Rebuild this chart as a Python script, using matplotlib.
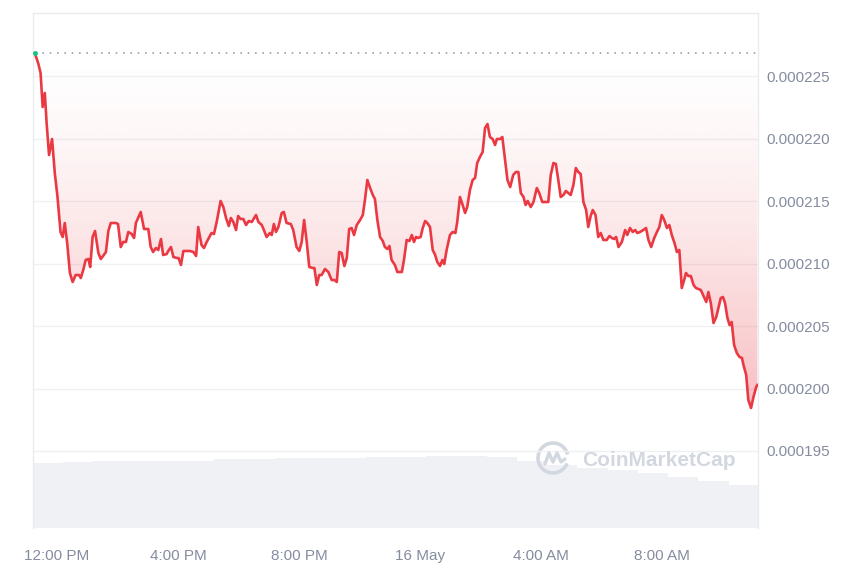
import numpy as np
import matplotlib
matplotlib.use("Agg")
from matplotlib import pyplot as plt
from matplotlib.patches import Arc

plt.rcParams['font.family'] = ['Liberation Sans', 'DejaVu Sans']

# ---------------------------------------------------------------------------
# data (hours after 15 May 12:00 PM, price in 1e-6 USD)
# ---------------------------------------------------------------------------
hours = [-0.73, -0.62, -0.54, -0.47, -0.40, -0.34, -0.26, -0.16, -0.07, 0.02,
         0.12, 0.19, 0.26, 0.34, 0.43, 0.52, 0.62, 0.73, 0.79, 0.87,
         0.95, 1.04, 1.10, 1.18, 1.26, 1.37, 1.45, 1.55, 1.62, 1.70,
         1.78, 1.86, 1.95, 2.02, 2.11, 2.19, 2.28, 2.36, 2.47, 2.55,
         2.61, 2.77, 2.88, 3.02, 3.10, 3.18, 3.27, 3.35, 3.44, 3.51,
         3.63, 3.68, 3.77, 3.85, 3.96, 4.02, 4.10, 4.18, 4.29, 4.40,
         4.51, 4.60, 4.67, 4.78, 4.86, 4.95, 5.04, 5.11, 5.19, 5.28,
         5.41, 5.50, 5.59, 5.68, 5.75, 5.83, 5.92, 5.99, 6.07, 6.16,
         6.25, 6.34, 6.44, 6.58, 6.66, 6.77, 6.84, 6.93, 7.04, 7.10,
         7.17, 7.24, 7.32, 7.43, 7.50, 7.59, 7.73, 7.81, 7.92, 8.01,
         8.09, 8.17, 8.26, 8.34, 8.45, 8.51, 8.59, 8.67, 8.75, 8.86,
         8.97, 9.08, 9.17, 9.25, 9.33, 9.41, 9.50, 9.58, 9.66, 9.74,
         9.82, 9.91, 10.02, 10.11, 10.18, 10.26, 10.35, 10.44, 10.51, 10.59,
         10.68, 10.77, 10.84, 10.92, 10.99, 11.06, 11.17, 11.25, 11.40, 11.47,
         11.56, 11.65, 11.73, 11.80, 11.87, 11.94, 12.02, 12.09, 12.17, 12.24,
         12.33, 12.42, 12.50, 12.57, 12.66, 12.74, 12.80, 12.88, 12.99, 13.08,
         13.17, 13.23, 13.32, 13.41, 13.49, 13.56, 13.65, 13.74, 13.82, 13.89,
         13.98, 14.07, 14.15, 14.23, 14.31, 14.40, 14.48, 14.54, 14.65, 14.72,
         14.81, 14.89, 14.98, 15.08, 15.17, 15.25, 15.33, 15.42, 15.49, 15.56,
         15.66, 15.75, 15.86, 15.94, 16.04, 16.17, 16.24, 16.32, 16.41, 16.49,
         16.57, 16.65, 16.74, 16.82, 16.90, 16.98, 17.07, 17.15, 17.23, 17.31,
         17.40, 17.49, 17.56, 17.64, 17.71, 17.80, 17.89, 17.97, 18.06, 18.17,
         18.26, 18.34, 18.41, 18.48, 18.56, 18.67, 18.78, 18.85, 18.94, 19.03,
         19.11, 19.18, 19.27, 19.38, 19.47, 19.55, 19.64, 19.74, 19.83, 19.91,
         19.99, 20.07, 20.16, 20.24, 20.32, 20.41, 20.49, 20.57, 20.65, 20.73,
         20.79, 20.87, 20.95, 21.04, 21.12, 21.20, 21.28, 21.37, 21.46, 21.53,
         21.61, 21.70, 21.79, 21.86, 21.94, 22.01, 22.08, 22.16, 22.23, 22.30,
         22.38, 22.47, 22.56, 22.64, 22.69, 22.78, 22.85, 22.94, 23.02, 23.11,
         23.15]

price_micro = [226.82, 226.04, 225.24, 222.52, 223.64, 221.24, 218.68, 219.96, 217.24, 215.32,
               212.52, 212.12, 213.24, 211.64, 209.24, 208.52, 209.08, 209.08, 208.84, 209.48,
               210.28, 210.36, 209.72, 212.12, 212.60, 210.84, 210.36, 210.68, 210.92, 212.60,
               213.24, 213.24, 213.24, 213.16, 211.32, 211.72, 211.72, 212.52, 212.36, 212.04,
               213.24, 214.12, 212.76, 212.76, 211.32, 210.92, 211.24, 211.08, 211.96, 210.68,
               210.76, 211.00, 211.32, 210.52, 210.44, 210.44, 209.88, 211.00, 211.00, 211.00,
               210.92, 210.60, 212.92, 211.48, 211.24, 211.72, 212.12, 212.44, 212.36, 213.32,
               215.00, 214.52, 213.64, 213.00, 213.64, 213.32, 212.68, 213.80, 213.56, 213.56,
               213.08, 213.40, 213.32, 213.88, 213.32, 213.08, 212.68, 212.12, 212.44, 212.28,
               213.16, 212.52, 212.92, 214.04, 214.12, 213.24, 213.16, 212.68, 211.32, 211.00,
               211.72, 213.48, 211.64, 209.72, 209.64, 209.64, 208.28, 209.08, 209.08, 209.56,
               209.32, 208.68, 208.68, 208.52, 210.92, 210.84, 209.80, 210.44, 212.76, 212.84,
               212.28, 213.08, 213.48, 213.88, 215.08, 216.68, 216.04, 215.48, 215.16, 213.48,
               212.12, 211.80, 211.32, 211.16, 211.40, 210.28, 209.88, 209.32, 209.32, 210.28,
               211.88, 211.80, 212.28, 211.72, 212.12, 212.04, 212.12, 212.84, 213.40, 213.24,
               212.92, 211.08, 210.68, 210.12, 209.80, 210.28, 209.96, 211.08, 212.28, 212.52,
               212.44, 213.32, 215.32, 214.68, 214.04, 214.52, 215.88, 216.68, 216.84, 218.04,
               218.52, 218.92, 220.84, 221.16, 220.12, 219.96, 219.48, 219.96, 219.96, 220.12,
               218.28, 216.68, 216.12, 217.08, 217.32, 217.32, 215.64, 215.32, 214.68, 215.00,
               214.52, 214.92, 216.04, 215.64, 214.92, 214.92, 214.92, 217.08, 218.04, 217.96,
               216.68, 215.32, 215.48, 215.80, 215.64, 215.48, 216.28, 217.64, 217.32, 217.16,
               214.92, 214.28, 212.92, 213.80, 214.28, 213.88, 212.12, 212.44, 211.88, 211.88,
               212.20, 212.04, 211.96, 212.12, 211.32, 211.72, 212.68, 212.28, 212.84, 212.52,
               212.68, 212.44, 212.52, 212.68, 212.84, 211.88, 211.32, 212.04, 212.52, 212.92,
               213.88, 213.48, 212.84, 213.08, 212.28, 211.64, 210.92, 211.08, 208.04, 208.68,
               209.24, 209.00, 209.00, 208.28, 208.04, 207.96, 207.88, 207.40, 206.92, 207.72,
               206.84, 205.24, 205.72, 206.44, 207.24, 207.32, 206.84, 205.64, 205.08, 205.32,
               203.48, 202.84, 202.52, 202.44, 201.88, 201.08, 199.08, 198.44, 199.32, 200.12,
               200.28]

# hourly volume bars (millions USD, approximate)
vol_hours = [-0.3, 0.7, 1.7, 2.7, 3.7, 4.7, 5.7, 6.7, 7.7, 8.7, 9.7, 10.7,
             11.7, 12.7, 13.7, 14.7, 15.7, 16.7, 17.7, 18.7, 19.7, 20.7, 21.7, 22.7]
vol_musd = [6.5, 6.6, 6.7, 6.7, 6.7, 6.75, 6.9, 6.9, 7.0, 7.0, 7.05, 7.1,
            7.15, 7.2, 7.2, 7.1, 6.7, 6.3, 6.0, 5.8, 5.5, 5.1, 4.7, 4.3]

x_ticks = [0, 4, 8, 12, 16, 20]
x_labels = ['12:00 PM', '4:00 PM', '8:00 PM', '16 May', '4:00 AM', '8:00 AM']
y_ticks = [0.000195, 0.000200, 0.000205, 0.000210, 0.000215, 0.000220, 0.000225]

# ---------------------------------------------------------------------------
t = np.array(hours)
price = np.array(price_micro) * 1e-6
base = price[0]

RED = '#ea3943'
GRID = '#eef0f3'
LABEL = '#858ca0'

fig = plt.figure(figsize=(8.5, 5.67), dpi=100)
ax = fig.add_axes([33 / 850, 39 / 567, 725 / 850, 515 / 567])
axv = ax.twinx()

# volume in the back
axv.bar(vol_hours, vol_musd, width=1.0, color='#eff1f5', edgecolor='none')
axv.set_ylim(0, 51.5)
axv.set_yticks([])
for s in axv.spines.values():
    s.set_visible(False)

ax.set_zorder(axv.get_zorder() + 1)
ax.patch.set_visible(False)

xlim = (-0.79, 23.17)
ylim = (188.84e-6, 230.04e-6)

# gradient fill between price line and opening price
poly = ax.fill_between(t, price, base, facecolor='none', edgecolor='none')
clip = poly.get_paths()[0]
g = np.linspace(0, 1, 256) ** 1.4
img = np.zeros((256, 1, 4))
img[..., 0] = 234 / 255
img[..., 1] = 57 / 255
img[..., 2] = 67 / 255
img[:, 0, 3] = 0.34 * g[::-1]
im = ax.imshow(img, extent=[xlim[0], xlim[1], 197.5e-6, base], origin='lower',
               aspect='auto', zorder=1, interpolation='bilinear')
im.set_clip_path(clip, transform=ax.transData)

ax.plot([t[0], xlim[1]], [base, base], color='#9aa1ad', lw=1.2,
        linestyle=(0, (1, 3.4)), zorder=2)
ax.plot(t, price, color=RED, lw=1.9, zorder=3, solid_joinstyle='round')
ax.plot(t[0], price[0], 'o', color='#16c784', ms=2.5, zorder=4)

ax.set_xlim(*xlim)
ax.set_ylim(*ylim)

ax.yaxis.tick_right()
ax.set_yticks(y_ticks)
ax.set_yticklabels(['%.6f' % v for v in y_ticks])
ax.set_xticks(x_ticks)
ax.set_xticklabels(x_labels)
ax.tick_params(axis='y', length=0, pad=6, labelsize=11, labelcolor=LABEL)
ax.tick_params(axis='x', length=0, pad=15, labelsize=11, labelcolor=LABEL)
ax.grid(axis='y', color=GRID, lw=1.0)
ax.set_axisbelow(True)

for side in ['left', 'right', 'top']:
    ax.spines[side].set_color('#e9ebee')
    ax.spines[side].set_linewidth(1.0)
ax.spines['bottom'].set_visible(False)

# watermark
wm = '#d3d8e0'
fig.text(582 / 850, 1 - 461 / 567, 'CoinMarketCap', fontsize=15, fontweight='bold',
         color=wm, ha='left', va='center')
fig.add_artist(Arc((553 / 850, 1 - 458 / 567), 30 / 850, 30 / 567, theta1=20, theta2=330,
                   color=wm, lw=2.6, transform=fig.transFigure))
wx = np.array([-8, -4, 0, 4, 8, 12]) / 850 + 553 / 850
wy = 1 - (458 + np.array([6, -5, 4, -5, 4, 1])) / 567
fig.add_artist(plt.Line2D(wx, wy, color=wm, lw=2.4, transform=fig.transFigure,
                          solid_joinstyle='round', solid_capstyle='round'))

fig.savefig('out.png', dpi=100)
